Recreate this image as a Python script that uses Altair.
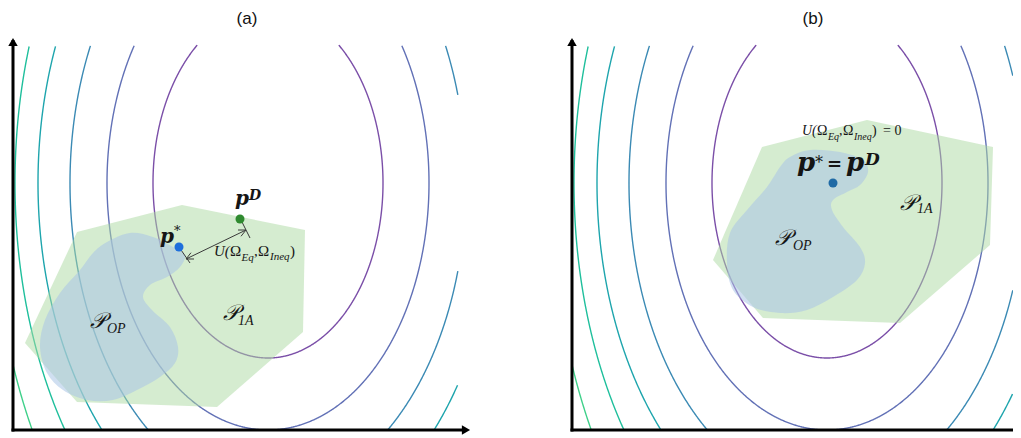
import altair as alt
import numpy as np
import pandas as pd

# ---------------- data ----------------
PANELS = ["a", "b"]
TITLES = ["(a)", "(b)"]
TITLE_X = [234, 241]
TITLE_Y = 411

X_DOMAIN = {"a": [-5, 461], "b": [-5, 441]}
Y_DOMAIN = [-6, 422]
PANEL_W = {"a": 466, "b": 446}
PANEL_H = 428

# contour ellipses of the objective (inner -> outer), same in both panels
CONTOUR_CX = 255
CONTOUR_CY = 247
CONTOUR_A = [115, 161, 198, 230, 253, 276]
CONTOUR_B = [175, 247, 310, 357, 414, 475]
CONTOUR_COLORS = ["#7b4fa8", "#6271b6", "#3b8ab4", "#1ea5ad", "#1fbf9c", "#3fd08a"]
CONTOUR_TOP = 385
CONTOUR_RIGHT = {"a": 445, "b": 441}

# feasible set P_1A (polygon)
P1A = {
    "a": ([64, 169, 292, 290, 204, 64, 12], [198, 225, 200, 98, 23, 28, 87]),
    "b": ([190, 295, 421, 418, 328, 191, 141], [283, 310, 283, 185, 107, 112, 170]),
}
# operating region P_OP (smooth blob outline)
POP = {
    "a": ([94, 117, 140, 160, 172, 167, 154, 137, 130, 139, 157, 165, 162, 147, 124, 100, 74, 50, 34, 27, 32, 47, 67, 80],
          [188, 197, 193, 183, 175, 163, 153, 145, 133, 120, 103, 83, 67, 53, 40, 30, 30, 40, 57, 83, 110, 137, 160, 177]),
    "b": ([218, 238, 268, 291, 296, 288, 275, 261, 260, 271, 288, 293, 285, 261, 235, 208, 181, 161, 155, 158, 175, 195, 208],
          [273, 280, 278, 270, 258, 245, 238, 230, 220, 203, 183, 167, 150, 133, 120, 117, 123, 140, 167, 197, 220, 243, 263]),
}
# points
POINTS = {
    "a": [(166, 183, "#1e6fdc"), (227, 211, "#2f8a2f")],
    "b": [(261, 247, "#1f6aa5")],
}
# distance annotation in (a): arrow ends and extension lines
ARROW_A = [(173, 171), (233, 200)]
EXT_A = [((166, 183), (177, 167)), ((229, 208), (237, 192))]

AXIS_TOP = 390
AXIS_RIGHT = {"a": 453, "b": 441}

# text pieces: panel, kind, text, x, y (baseline), font size
TEXTS = [
    ("a", "bi", "p", 147, 187, 20), ("a", "s", "*", 161, 195, 13),
    ("a", "bi", "p", 222, 225, 20), ("a", "bi", "D", 236, 230, 14),
    ("a", "i", "U(", 201, 174, 15), ("a", "n", "Ω", 217, 174, 15),
    ("a", "i", "Eq", 228.5, 169, 11), ("a", "n", ",", 241, 174, 15),
    ("a", "n", "Ω", 245, 174, 15), ("a", "i", "Ineq", 257, 170, 11),
    ("a", "n", ")", 277, 174, 15),
    ("a", "i", "𝒫", 77, 102, 22), ("a", "i", "OP", 94, 97, 14),
    ("a", "i", "𝒫", 210, 110, 22), ("a", "i", "1A", 225, 105, 14),
    ("b", "bi", "p", 225, 259, 26), ("b", "s", "*", 243, 262, 16),
    ("b", "b", "=", 255, 260, 18), ("b", "bi", "p", 274, 259, 26),
    ("b", "bi", "D", 293, 265, 17),
    ("b", "i", "U(", 230, 295, 14), ("b", "n", "Ω", 245, 295, 14),
    ("b", "i", "Eq", 256, 290, 10), ("b", "n", ",", 267, 295, 14),
    ("b", "n", "Ω", 271, 295, 14), ("b", "i", "Ineq", 282, 290, 10),
    ("b", "n", ")", 300, 295, 14), ("b", "n", "= 0", 311, 295, 14),
    ("b", "i", "𝒫", 203, 185, 22), ("b", "i", "OP", 221, 180, 14),
    ("b", "i", "𝒫", 328, 220, 22), ("b", "i", "1A", 345, 217, 14),
]
TEXT_STYLE = {
    "bi": ("DejaVu Serif", "bold", "italic"),
    "b": ("DejaVu Serif", "bold", "normal"),
    "s": ("DejaVu Serif", "normal", "normal"),
    "i": ("Liberation Serif", "normal", "italic"),
    "n": ("Liberation Serif", "normal", "normal"),
}


def contour_frame(p):
    rows = []
    t = np.linspace(0, 2 * np.pi, 1441)
    seg = 0
    for k, (a, b, c) in enumerate(zip(CONTOUR_A, CONTOUR_B, CONTOUR_COLORS)):
        xs = CONTOUR_CX + a * np.cos(t)
        ys = CONTOUR_CY + b * np.sin(t)
        inside = (xs >= 0) & (xs <= CONTOUR_RIGHT[p]) & (ys >= 0) & (ys <= CONTOUR_TOP)
        prev = False
        for i in range(len(t)):
            if inside[i]:
                if not prev:
                    seg += 1
                rows.append({"x": xs[i], "y": ys[i], "seg": seg, "i": i, "color": c})
            prev = inside[i]
    return pd.DataFrame(rows)


def arrow_rules():
    (x0, y0), (x1, y1) = ARROW_A
    rows = [{"x": x0, "y": y0, "x2": x1, "y2": y1}]
    for (sx, sy), (ex, ey) in EXT_A:
        rows.append({"x": sx, "y": sy, "x2": ex, "y2": ey})
    for (tx, ty), (ox, oy) in [((x0, y0), (x1, y1)), ((x1, y1), (x0, y0))]:
        d = np.array([ox - tx, oy - ty], float)
        d /= np.linalg.norm(d)
        for ang in (0.45, -0.45):
            r = np.array([d[0] * np.cos(ang) - d[1] * np.sin(ang), d[0] * np.sin(ang) + d[1] * np.cos(ang)])
            rows.append({"x": tx, "y": ty, "x2": tx + 8 * r[0], "y2": ty + 8 * r[1]})
    return pd.DataFrame(rows)


def panel(idx):
    p = PANELS[idx]
    X = alt.X("x:Q", scale=alt.Scale(domain=X_DOMAIN[p], nice=False, zero=False), axis=None)
    Y = alt.Y("y:Q", scale=alt.Scale(domain=Y_DOMAIN, nice=False, zero=False), axis=None)
    layers = []

    layers.append(alt.Chart(contour_frame(p)).mark_line(strokeWidth=1.4, clip=True).encode(
        x=X, y=Y, detail="seg:N", order="i:Q", color=alt.Color("color:N", scale=None)))

    px, py = P1A[p]
    layers.append(alt.Chart(pd.DataFrame({"x": px, "y": py, "i": range(len(px))})).mark_line(
        interpolate="linear-closed", fill="#abd9a1", fillOpacity=0.5, strokeOpacity=0).encode(
        x=X, y=Y, order="i:Q"))

    bx, by = POP[p]
    layers.append(alt.Chart(pd.DataFrame({"x": bx, "y": by, "i": range(len(bx))})).mark_line(
        interpolate="cardinal-closed", fill="#a9c4e6", fillOpacity=0.55, strokeOpacity=0).encode(
        x=X, y=Y, order="i:Q"))

    if p == "a":
        layers.append(alt.Chart(arrow_rules()).mark_rule(color="#3a3a3a", strokeWidth=1).encode(
            x=X, y=Y, x2="x2:Q", y2="y2:Q"))

    pts = pd.DataFrame([{"x": a, "y": b, "color": c} for a, b, c in POINTS[p]])
    layers.append(alt.Chart(pts).mark_circle(size=81, opacity=1).encode(
        x=X, y=Y, color=alt.Color("color:N", scale=None)))

    tdf = pd.DataFrame([{"kind": k, "text": s, "x": x, "y": y, "size": z}
                        for (pp, k, s, x, y, z) in TEXTS if pp == p])
    for kind, (f, w, st) in TEXT_STYLE.items():
        sub = tdf[tdf["kind"] == kind]
        if len(sub) == 0:
            continue
        layers.append(alt.Chart(sub).mark_text(
            align="left", baseline="alphabetic", font=f, fontWeight=w, fontStyle=st, color="#151515").encode(
            x=X, y=Y, text="text:N", size=alt.Size("size:Q", scale=None, legend=None)))

    layers.append(alt.Chart(pd.DataFrame({"x": [TITLE_X[idx]], "y": [TITLE_Y], "text": [TITLES[idx]]})).mark_text(
        align="center", baseline="middle", font="Liberation Sans", fontSize=17, color="#111").encode(
        x=X, y=Y, text="text:N"))

    axes = pd.DataFrame({"x": [0, -1.5], "y": [-1.5, 0], "x2": [0, AXIS_RIGHT[p]], "y2": [AXIS_TOP, 0]})
    layers.append(alt.Chart(axes).mark_rule(color="black", strokeWidth=3, clip=True).encode(
        x=X, y=Y, x2="x2:Q", y2="y2:Q"))
    if p == "a":
        heads = pd.DataFrame({"x": [0, AXIS_RIGHT[p]], "y": [AXIS_TOP - 2, 0],
                              "shape": ["triangle-up", "triangle-right"]})
    else:
        heads = pd.DataFrame({"x": [0], "y": [AXIS_TOP - 2], "shape": ["triangle-up"]})
    layers.append(alt.Chart(heads).mark_point(filled=True, size=90, color="black", opacity=1, clip=True).encode(
        x=X, y=Y, shape=alt.Shape("shape:N", scale=None)))

    return alt.layer(*layers).properties(width=PANEL_W[p], height=PANEL_H)


chart = alt.hconcat(panel(0), panel(1), spacing=93).properties(padding=0).configure_view(stroke=None)
chart.save("out.html", embed_options={"renderer": "svg", "actions": False})
